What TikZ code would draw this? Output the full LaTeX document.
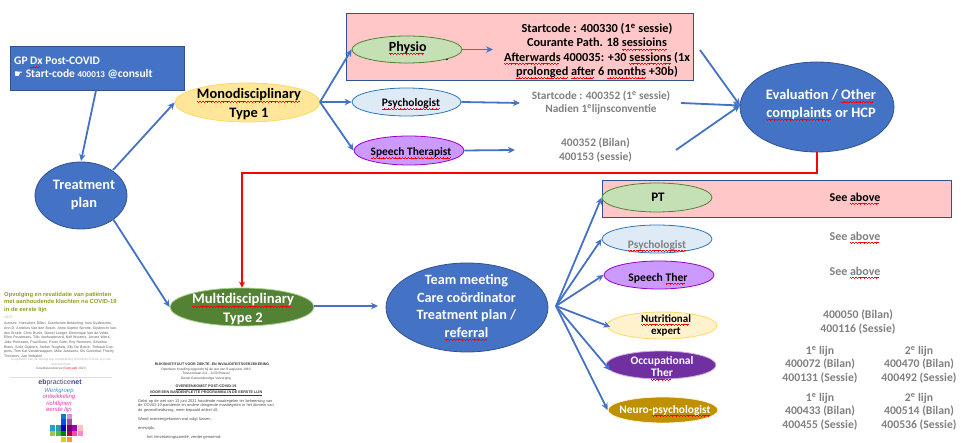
\documentclass[tikz,border=0pt]{standalone}
\usepackage{fontspec}
\usetikzlibrary{arrows.meta,shapes.geometric}
\setmainfont{Carlito}
\newfontfamily\symfont{DejaVu Sans}
\newfontfamily\docfont{Liberation Sans}
\definecolor{bluefill}{HTML}{4472C4}
\definecolor{blueedge}{HTML}{2F528F}
\definecolor{pinkfill}{HTML}{FFC7C7}
\definecolor{codegrey}{HTML}{808080}
\definecolor{olivedoc}{HTML}{8E9E22}
\definecolor{goldfill}{HTML}{FFE699}
\definecolor{goldedge}{HTML}{FFD966}
\definecolor{creamfill}{HTML}{FFF2CC}
\definecolor{multifill}{HTML}{548235}
\definecolor{multiedge}{HTML}{A9D18E}
\definecolor{physiofill}{HTML}{C5E0B4}
\definecolor{psyfill}{HTML}{DEEBF7}
\definecolor{psyedge}{HTML}{2E75B6}
\definecolor{speechfill}{HTML}{CC99FF}
\definecolor{speechedge}{HTML}{9900CC}
\definecolor{occfill}{HTML}{7030A0}
\definecolor{occedge}{HTML}{CFA8E8}
\definecolor{neurofill}{HTML}{BF9000}
\newsavebox\sqbox
\newcommand\sq[1]{\sbox\sqbox{#1}\leavevmode\rlap{\usebox\sqbox}\smash{\hbox to \wd\sqbox{\color{red}\leaders\hbox{\rule[-2.7pt]{.8pt}{.55pt}\rule[-3.2pt]{.8pt}{.55pt}\rule[-2.7pt]{.8pt}{.55pt}\rule[-2.2pt]{.8pt}{.55pt}}\hfill}}}
\newcommand\fs[1]{\fontsize{#1}{#1}\selectfont}
\newcommand\fsl[2]{\fontsize{#1}{#2}\selectfont}
\tikzset{
  oval/.style={ellipse,draw,inner sep=0pt,line width=.8pt,align=center},
  flow/.style={draw=bluefill,line width=1.8pt,-{Stealth[length=7pt,width=6.5pt]}},
  redline/.style={draw=red,line width=1.7pt,-{Stealth[length=6pt,width=6pt]}},
  pinkbox/.style={draw=blueedge,fill=pinkfill,line width=.9pt,inner sep=0pt},
  lbl/.style={inner sep=0pt,align=center,font=\bfseries\fs{11.7}},
  code/.style={lbl,text=codegrey},
  whitelbl/.style={lbl,text=white},
  doc/.style={inner sep=0pt,anchor=north west,align=left},
}
\begin{document}
\begin{tikzpicture}[x=1pt,y=-1pt]
\useasboundingbox (0,0) rectangle (964,443);
% pink boxes
\node[pinkbox,minimum width=347pt,minimum height=67pt] (pink1) at (519.5,46.5) {};
\node[pinkbox,minimum width=349pt,minimum height=37pt] (pink2) at (776.5,198.5) {};
% start box
\node[draw=blueedge,fill=bluefill,line width=.9pt,minimum width=174pt,minimum height=44pt,inner sep=0pt] (gp) at (97.5,68.5) {};
\node[inner sep=0pt,anchor=west,align=left,text=white,font=\bfseries\fs{11.5}] (gptext) at (14,68) {GP \sq{Dx} Post-COVID\\[2pt]{\symfont\mdseries\fs{10}☛} Start-code {\fs{9}400013} @consult};
% ovals first level
\node[oval,draw=blueedge,fill=bluefill,minimum width=92pt,minimum height=67pt] (treat) at (81,195.5) {};
\node[whitelbl,font=\bfseries\fs{14.4}] (treatlbl) at (84,195) {Treatment\\[4.5pt]plan};
\node[oval,draw=goldedge,fill=goldfill,minimum width=145pt,minimum height=39pt] (mono) at (247.5,102.5) {};
\node[lbl,font=\bfseries\fs{14.4}] (monolbl) at (249,104.5) {\sq{Monodisciplinary}\\[4.5pt]Type 1};
\node[oval,draw=multiedge,fill=multifill,minimum width=144pt,minimum height=38pt] (multi) at (242,307) {};
\node[whitelbl,font=\bfseries\fs{14.6}] (multilbl) at (243,309) {\sq{Multidisciplinary}\\[3.5pt]Type 2};
\node[oval,draw=blueedge,fill=bluefill,minimum width=162pt,minimum height=89pt] (team) at (467,307.5) {};
\node[whitelbl,font=\bfseries\fs{14.2}] (teamlbl) at (466.5,306) {Team meeting\\[3.3pt]Care coördinator\\[3.3pt]Treatment plan /\\[3.3pt]\sq{referral}};
\node[oval,draw=blueedge,fill=bluefill,minimum width=154pt,minimum height=90pt] (eval) at (817,107) {};
\node[whitelbl,font=\bfseries\fs{14.4}] (evallbl) at (821,104.5) {Evaluation / \sq{Other}\\[3pt]\sq{complaints} or HCP};
% type 1 ovals
\node[inner sep=0pt,font=\bfseries\fs{11}] (tail) at (446.5,57.5) {t};
\node[oval,draw=multifill,fill=physiofill,minimum width=110pt,minimum height=27pt] (physio) at (407,49.5) {};
\node[lbl,font=\bfseries\fs{14}] (physiolbl) at (407.7,47.5) {\sq{Physio}};
\node[oval,draw=psyedge,fill=psyfill,minimum width=109pt,minimum height=28pt] (psy) at (406.5,102) {};
\node[lbl,font=\bfseries\fs{11.4}] (psylbl) at (411,103.5) {\sq{Psychologist}};
\node[oval,draw=speechedge,fill=speechfill,minimum width=110pt,minimum height=29pt] (speech) at (409,150.5) {};
\node[lbl,font=\bfseries\fs{11.4}] (speechlbl) at (411,152.5) {\sq{Speech Therapist}};
% type 2 ovals
\node[oval,draw=multifill,fill=physiofill,minimum width=110pt,minimum height=29pt] (pt) at (657,197.5) {};
\node[lbl,font=\bfseries\fs{13}] (ptlbl) at (658,197.5) {PT};
\node[oval,draw=psyedge,fill=psyfill,minimum width=110pt,minimum height=28pt] (psyb) at (657,239) {};
\node[code,font=\bfseries\fs{11.4}] (psybt) at (657,245) {\sq{Psychologist}};
\node[oval,draw=speechedge,fill=speechfill,minimum width=110pt,minimum height=28pt] (speechb) at (659,275) {};
\node[lbl,font=\bfseries\fs{11.6}] (speechblbl) at (658,278) {Speech \sq{Ther}};
\node[oval,draw=goldedge,fill=creamfill,minimum width=110pt,minimum height=27pt] (nutri) at (662,325.5) {};
\node[lbl,font=\bfseries\fs{11}] (nutrilbl) at (666,325.5) {\sq{Nutritional}\\[1.5pt]expert};
\node[oval,draw=occedge,fill=occfill,minimum width=110pt,minimum height=28pt] (occ) at (661,365) {};
\node[whitelbl,font=\bfseries\fs{11.5}] (occlbl) at (662,366.5) {Occupational\\[1.5pt]\sq{Ther}};
\node[oval,draw=creamfill,fill=neurofill,minimum width=110pt,minimum height=26pt] (neuro) at (663,410) {};
\node[whitelbl,font=\bfseries\fs{11.4}] (neurolbl) at (665,410) {Neuro-\sq{psychologist}};
% code texts
\node[lbl,font=\bfseries\fs{12.3}] (physiotxt) at (597,50.5) {Startcode : 400330 (1\textsuperscript{e} sessie)\\[2pt]Courante Path. 18 \sq{sessioins}\\[2pt]\sq{Afterwards} 400035: +30 \sq{sessions} (1x\\[2pt]\sq{prolonged} \sq{after} 6 \sq{months} +30b)};
\node[code,font=\bfseries\fs{11.3}] (psytxt) at (601,103) {Startcode : 400352 (1\textsuperscript{e} sessie)\\[2pt]Nadien 1\textsuperscript{e}lijnsconventie};
\node[code,font=\bfseries\fs{11.5}] (speechtxt) at (595.5,150) {400352 (Bilan)\\[2pt]400153 (sessie)};
\node[lbl,font=\bfseries\fs{12}] (sa1) at (855,197) {See \sq{above}};
\node[code,font=\bfseries\fs{12}] (sa2) at (855,236) {See \sq{above}};
\node[code,font=\bfseries\fs{12}] (sa3) at (855,271) {See \sq{above}};
\node[code] (nutritxt) at (858,322) {400050 (Bilan)\\[2pt]400116 (Sessie)};
\node[code] (occa) at (820,364.5) {1\textsuperscript{e} lijn\\[1.5pt]400072 (Bilan)\\[1.5pt]400131 (Sessie)};
\node[code] (occb) at (919,364.5) {2\textsuperscript{e} lijn\\[1.5pt]400470 (Bilan)\\[1.5pt]400492 (Sessie)};
\node[code] (neua) at (820,411.5) {1\textsuperscript{e} lijn\\[1.5pt]400433 (Bilan)\\[1.5pt]400455 (Sessie)};
\node[code] (neub) at (919,411.5) {2\textsuperscript{e} lijn\\[1.5pt]400514 (Bilan)\\[1.5pt]400536 (Sessie)};
% connectors
\coordinate (gpout) at (96,90.5);
\coordinate (treattop) at (81,161);
\coordinate (treatne) at (113,170);
\coordinate (treatse) at (113,219);
\coordinate (evin1) at (700,50);
\coordinate (evin2) at (681,103);
\coordinate (evin3) at (676,150);
\coordinate (evtip) at (740,105.5);
\coordinate (physiotip) at (493,49.5);
\coordinate (psytip) at (520,103);
\coordinate (speechtip) at (515,150);
\coordinate (teamtip) at (378,306);
\coordinate (multiout) at (314,306);
\coordinate (teamout) at (556,306);
\coordinate (monoout) at (320,102);
\coordinate (redtop) at (817,173);
\coordinate (redleft) at (242,173);
\draw[flow] (gpout) -- (treattop);
\draw[flow] (treatne) -- (mono.west);
\draw[flow] (treatse) -- (multi.west);
\draw[flow] (monoout) -- (physio.west);
\draw[flow] (monoout) -- (psy.west);
\draw[flow] (monoout) -- (speech.west);
\draw[flow] (physio.east) -- (physiotip);
\draw[flow] (psy.east) -- (psytip);
\draw[flow] (speech.east) -- (speechtip);
\draw[flow] (evin1) -- (evtip);
\draw[flow] (evin2) -- (evtip);
\draw[flow] (evin3) -- (evtip);
\draw[flow] (multiout) -- (teamtip);
\draw[flow] (teamout) -- (pt.west);
\draw[flow] (teamout) -- (psyb.west);
\draw[flow] (teamout) -- (speechb.west);
\draw[flow,shorten >=-4pt] (teamout) -- (nutri.west);
\draw[flow,shorten >=-7pt] (teamout) -- (occ.west);
\draw[flow] (teamout) -- (neuro.west);
\draw[redline] (eval.south) -- (redtop) -- (redleft) -- (multi.north);
% left document thumbnail
\node[doc,text=olivedoc,font=\docfont\bfseries\fsl{5.85}{7.5}] (doctitle) at (4,292) {Opvolging en revalidatie van patiënten\\met aanhoudende klachten na COVID-19\\in de eerste lijn};
\node[doc,text=olivedoc!60,font=\docfont\fs{3.6}] (docyear) at (4,315.5) {2023};
\node[doc,text width=114pt,text=black!65,font=\docfont\fsl{3.55}{4.7}] (docauth) at (4,322) {Auteurs: Hannelore Dillen, Greetkristin Bekkering, Ines Gysbrechts, Ann D, Annelies Van den Bosch, Anne-Sophie Sprotte, Gijsbrecht Vanden Broele, Chris Burtin, Daniel Langer, Dominique Van de Velde, Ellen Peustmans, Tillo Vanhaudenard, Nell Wouters, Jeroen Wiers, Joke Portrasen, Paul Boon, Paolo Gatti, Roy Remmen, Séverine Blaes, Sofie Gijsbers, Stefan Teughels, Elly De Boeck, Thibault Coppens, Tom Kat Vanderstappen, Mike Janssens, Els Goeethal, Thierry Troosters, Jan Verbakel};
\node[inner sep=0pt,align=center,text=black!30,font=\docfont\fsl{3.2}{4.7}] (docorder) at (61,362.5) {In opdracht van de Werkgroep Ontwikkeling Richtlijnen Eerste Lijn van\\ebpracticenet};
\node[inner sep=0pt,text=black!60,font=\docfont\fs{3.2}] (docver) at (61,369) {Goedkeuredversie ({\color{red}Concept}) 2023};
\fill[black!12] (9,377) rectangle (112,378);
\node[inner sep=0pt,font=\docfont\bfseries\fs{7},text=blue!30!black!75] (eblogo) at (60,383) {eb{\mdseries practice}net};
\node[inner sep=0pt,align=center,font=\docfont\itshape\fsl{6}{6.3}] (ebgroup) at (59,400.5) {{\color{cyan!60!blue!80}Werkgroep}\\{\color{magenta!80}ontwikkeling}\\{\color{magenta!80}richtlijnen}\\{\color{magenta!80}eerste lijn}};
\foreach \px/\py/\pc in {63.7/416.5/cyan!60!blue,69.2/416.5/violet!40,63.7/422/blue!70!cyan,69.2/422/violet!70,
  52.7/428/cyan!70!teal,58.2/428/teal!80,63.7/428/blue!70!black,69.2/428/violet!90!black,74.7/428/violet!70!magenta,80.2/428/pink,
  52.7/433.5/olive!55!green!60,58.2/433.5/green!60!black!70,63.7/433.5/green!50!black,69.2/433.5/purple!90!black,74.7/433.5/magenta!70,80.2/433.5/magenta!45,
  63.7/439.5/yellow!70!olive,69.2/439.5/orange!80}
  \fill[\pc] (\px-2.6,\py-2.6) rectangle (\px+2.6,\py+2.6);
% middle document thumbnail
\node[inner sep=0pt,font=\docfont\bfseries\fs{3.6},text=black!80] (riziv) at (212,364) {RIJKSINSTITUUT VOOR ZIEKTE- EN INVALIDITEITSVERZEKERING};
\node[inner sep=0pt,align=center,font=\docfont\fsl{3.3}{4},text=black!70] (riziv2) at (206,371.5) {Openbare instelling opgericht bij de wet van 9 augustus 1963\\Tervurenlaan 211 - 1150 Brussel};
\node[inner sep=0pt,font=\docfont\fs{3.3},text=black!70] (riziv3) at (206,379) {Dienst Geneeskundige Verzorging};
\node[inner sep=0pt,align=center,font=\docfont\bfseries\fsl{3.7}{4.3},text=black!80] (riziv4) at (206,390.5) {\underline{OVEREENKOMST POST-COVID-19}\\\underline{VOOR EEN BANDENPLETTE PROGRAMMA IN DE EERSTE LIJN}};
\node[doc,text width=139pt,font=\docfont\fsl{3.9}{4.6},text=black!70] (riziv5) at (138,399) {Gelet op de wet van 13 juni 2021 houdende maatregelen ter beheersing van de COVID-19-pandemie en andere dringende maatregelen in het domein van de gezondheidszorg, meer bepaald artikel 40;};
\node[doc,font=\docfont\fs{4},text=black!70] (riziv6) at (138,417) {Wordt overeengekomen wat volgt tussen,};
\node[doc,font=\docfont\fs{4},text=black!70] (riziv7) at (138,426) {enerzijds,};
\node[doc,font=\docfont\fs{4},text=black!70] (riziv8) at (147,435) {het Verzekeringscomité, verder genoemd:};
\end{tikzpicture}
\end{document}
